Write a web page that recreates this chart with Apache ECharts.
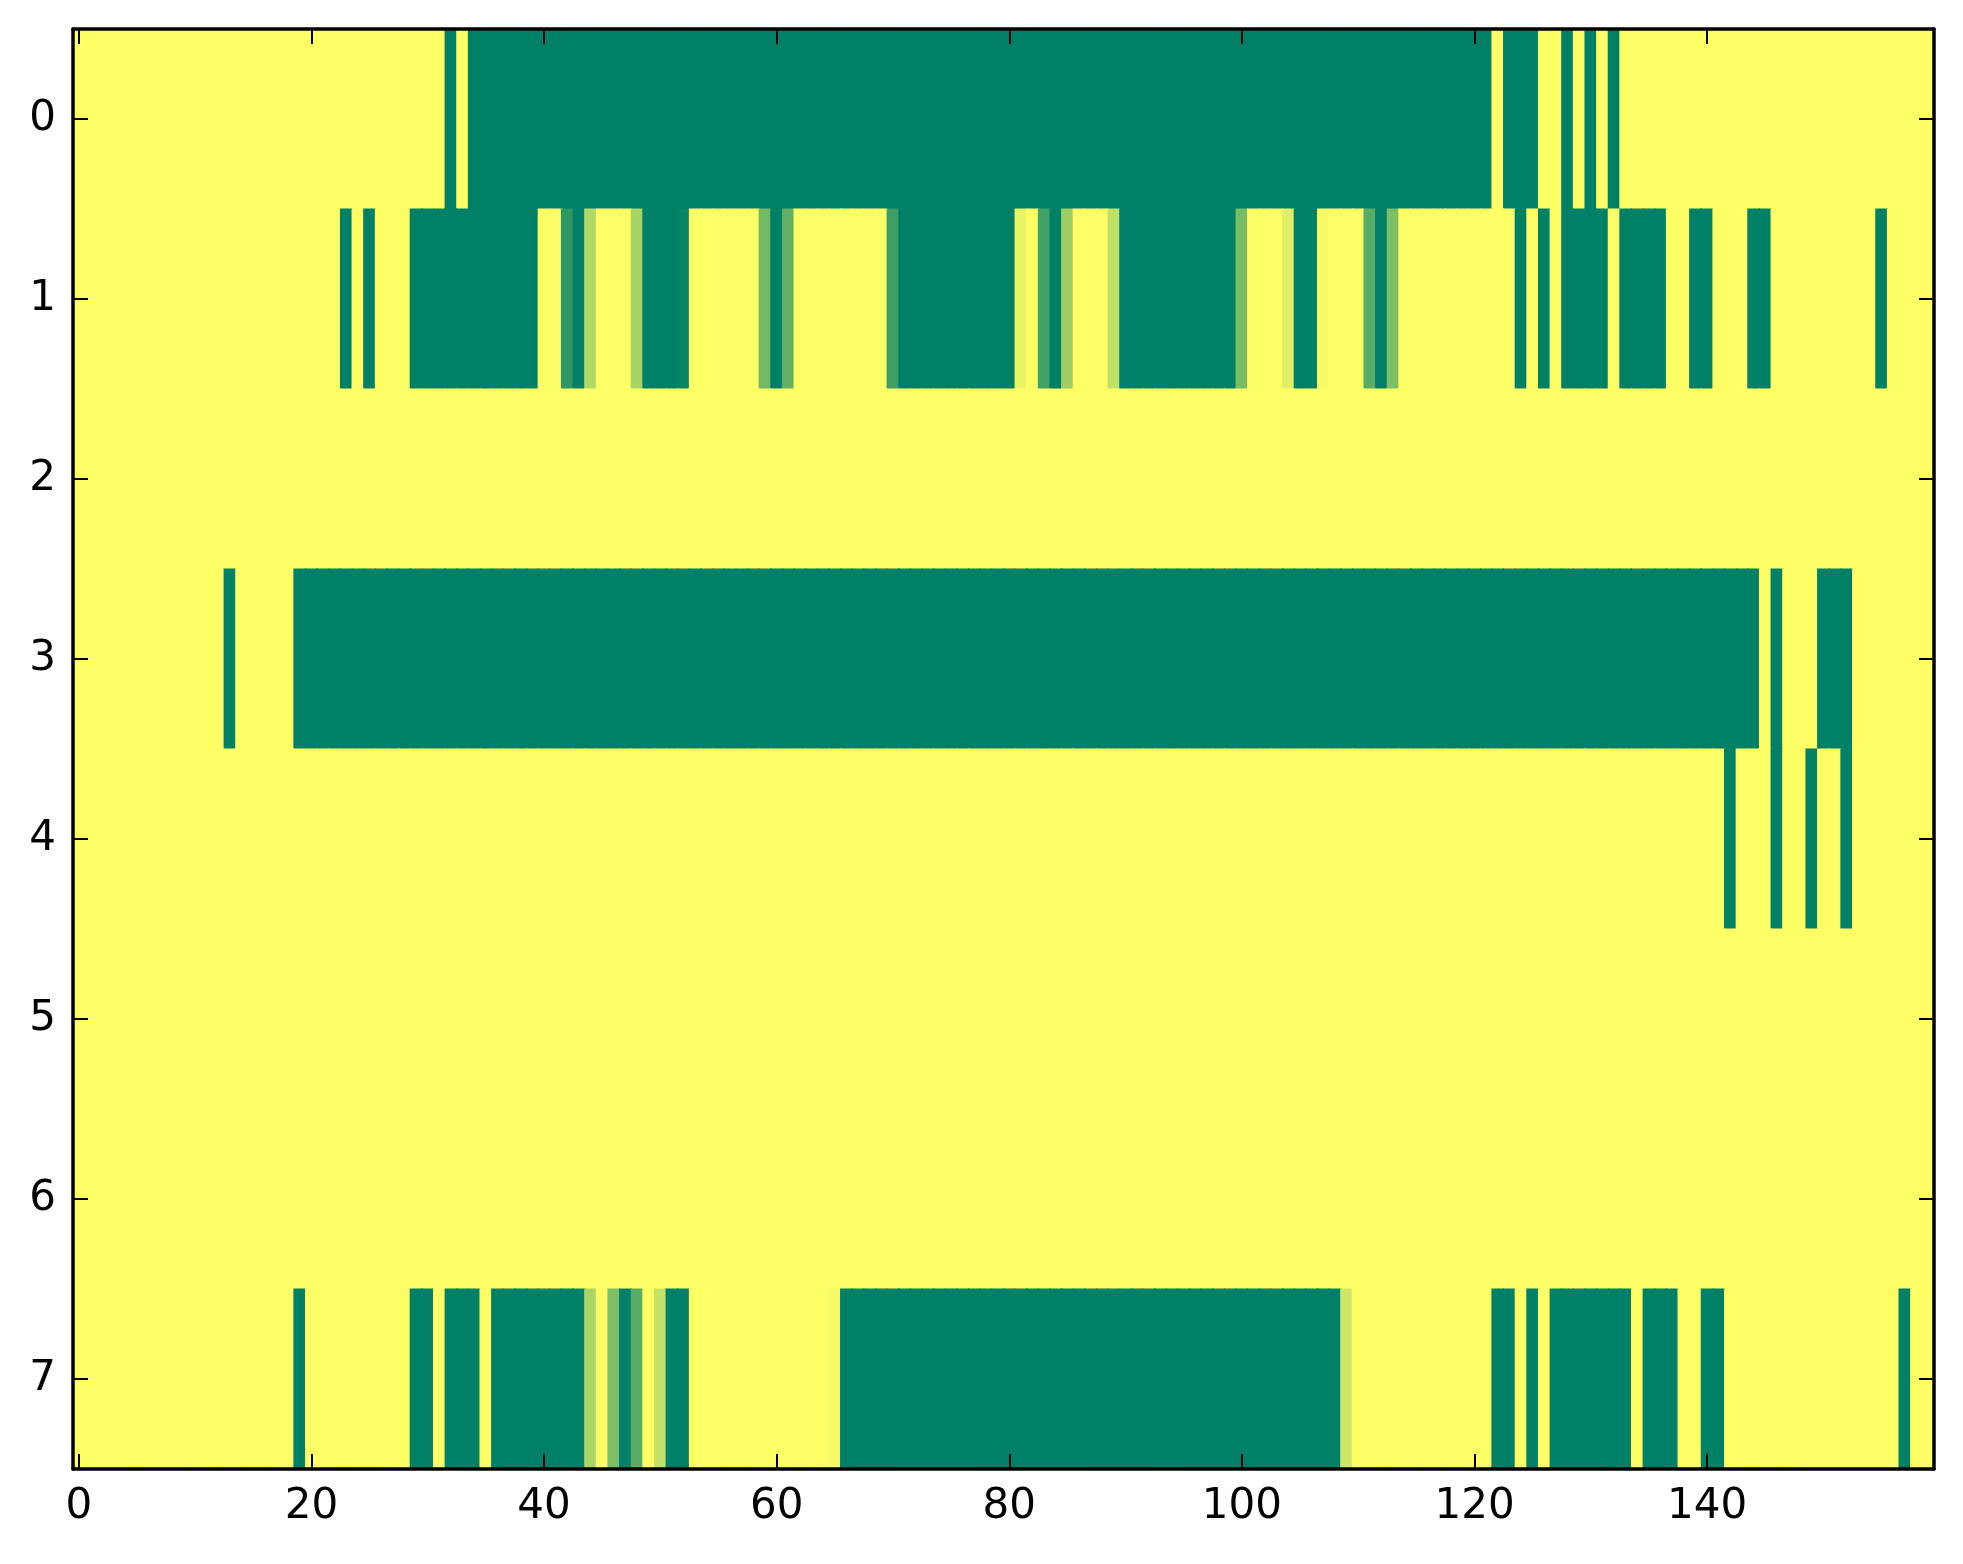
<!DOCTYPE html>
<html>
<head>
<meta charset="utf-8">
<script src="https://cdn.jsdelivr.net/npm/echarts@6/dist/echarts.min.js"></script>
<style>
html,body{margin:0;padding:0;background:#fff;}
#chart{width:1963px;height:1564px;}
</style>
</head>
<body>
<div id="chart"></div>
<script>
// Row labels (y categories) and column count
const rowLabels = ['0','1','2','3','4','5','6','7'];
const xTickStep = 20;

// Cell values per row (0 = yellow, 1 = green), 160 columns each
const row0 = [
0,0,0,0,0,0,0,0,0,0, 0,0,0,0,0,0,0,0,0,0, 0,0,0,0,0,0,0,0,0,0, 0,0,1,0,1,1,1,1,1,1,
1,1,1,1,1,1,1,1,1,1, 1,1,1,1,1,1,1,1,1,1, 1,1,1,1,1,1,1,1,1,1, 1,1,1,1,1,1,1,1,1,1,
1,1,1,1,1,1,1,1,1,1, 1,1,1,1,1,1,1,1,1,1, 1,1,1,1,1,1,1,1,1,1, 1,1,1,1,1,1,1,1,1,1,
1,1,0,1,1,1,0,0,1,0, 1,0,1,0,0,0,0,0,0,0, 0,0,0,0,0,0,0,0,0,0, 0,0,0,0,0,0,0,0,0,0];
const row1 = [
0,0,0,0,0,0,0,0,0,0, 0,0,0,0,0,0,0,0,0,0, 0,0,0,1,0,1,0,0,0,1, 1,1,1,1,1,1,1,1,1,1,
0,0,0.82,1,0.31,0,0,0,0.34,1, 1,1,0.97,0,0,0,0,0,0,0.55, 1,0.62,0,0,0,0,0,0,0,0, 0.76,1,1,1,1,1,1,1,1,1,
1,0.09,0,0.75,1,0.39,0,0,0,0.25, 1,1,1,1,1,1,1,1,1,1, 0.53,0,0,0,0.12,1,1,0.03,0,0, 0,0.65,1,0.51,0,0,0,0,0,0,
0,0,0,0,1,0,1,0,1,1, 1,1,0,1,1,1,1,0,0,1, 1,0,0,0,1,1,0,0,0,0, 0,0,0,0,0,1,0,0,0,0];
const row2 = [
0,0,0,0,0,0,0,0,0,0, 0,0,0,0,0,0,0,0,0,0, 0,0,0,0,0,0,0,0,0,0, 0,0,0,0,0,0,0,0,0,0,
0,0,0,0,0,0,0,0,0,0, 0,0,0,0,0,0,0,0,0,0, 0,0,0,0,0,0,0,0,0,0, 0,0,0,0,0,0,0,0,0,0,
0,0,0,0,0,0,0,0,0,0, 0,0,0,0,0,0,0,0,0,0, 0,0,0,0,0,0,0,0,0,0, 0,0,0,0,0,0,0,0,0,0,
0,0,0,0,0,0,0,0,0,0, 0,0,0,0,0,0,0,0,0,0, 0,0,0,0,0,0,0,0,0,0, 0,0,0,0,0,0,0,0,0,0];
const row3 = [
0,0,0,0,0,0,0,0,0,0, 0,0,0,1,0,0,0,0,0,1, 1,1,1,1,1,1,1,1,1,1, 1,1,1,1,1,1,1,1,1,1,
1,1,1,1,1,1,1,1,1,1, 1,1,1,1,1,1,1,1,1,1, 1,1,1,1,1,1,1,1,1,1, 1,1,1,1,1,1,1,1,1,1,
1,1,1,1,1,1,1,1,1,1, 1,1,1,1,1,1,1,1,1,1, 1,1,1,1,1,1,1,1,1,1, 1,1,1,1,1,1,1,1,1,1,
1,1,1,1,1,1,1,1,1,1, 1,1,1,1,1,1,1,1,1,1, 1,1,1,1,1,0,1,0,0,0, 1,1,1,0,0,0,0,0,0,0];
const row4 = [
0,0,0,0,0,0,0,0,0,0, 0,0,0,0,0,0,0,0,0,0, 0,0,0,0,0,0,0,0,0,0, 0,0,0,0,0,0,0,0,0,0,
0,0,0,0,0,0,0,0,0,0, 0,0,0,0,0,0,0,0,0,0, 0,0,0,0,0,0,0,0,0,0, 0,0,0,0,0,0,0,0,0,0,
0,0,0,0,0,0,0,0,0,0, 0,0,0,0,0,0,0,0,0,0, 0,0,0,0,0,0,0,0,0,0, 0,0,0,0,0,0,0,0,0,0,
0,0,0,0,0,0,0,0,0,0, 0,0,0,0,0,0,0,0,0,0, 0,0,1,0,0,0,1,0,0,1, 0,0,1,0,0,0,0,0,0,0];
const row5 = [
0,0,0,0,0,0,0,0,0,0, 0,0,0,0,0,0,0,0,0,0, 0,0,0,0,0,0,0,0,0,0, 0,0,0,0,0,0,0,0,0,0,
0,0,0,0,0,0,0,0,0,0, 0,0,0,0,0,0,0,0,0,0, 0,0,0,0,0,0,0,0,0,0, 0,0,0,0,0,0,0,0,0,0,
0,0,0,0,0,0,0,0,0,0, 0,0,0,0,0,0,0,0,0,0, 0,0,0,0,0,0,0,0,0,0, 0,0,0,0,0,0,0,0,0,0,
0,0,0,0,0,0,0,0,0,0, 0,0,0,0,0,0,0,0,0,0, 0,0,0,0,0,0,0,0,0,0, 0,0,0,0,0,0,0,0,0,0];
const row6 = [
0,0,0,0,0,0,0,0,0,0, 0,0,0,0,0,0,0,0,0,0, 0,0,0,0,0,0,0,0,0,0, 0,0,0,0,0,0,0,0,0,0,
0,0,0,0,0,0,0,0,0,0, 0,0,0,0,0,0,0,0,0,0, 0,0,0,0,0,0,0,0,0,0, 0,0,0,0,0,0,0,0,0,0,
0,0,0,0,0,0,0,0,0,0, 0,0,0,0,0,0,0,0,0,0, 0,0,0,0,0,0,0,0,0,0, 0,0,0,0,0,0,0,0,0,0,
0,0,0,0,0,0,0,0,0,0, 0,0,0,0,0,0,0,0,0,0, 0,0,0,0,0,0,0,0,0,0, 0,0,0,0,0,0,0,0,0,0];
const row7 = [
0,0,0,0,0,0,0,0,0,0, 0,0,0,0,0,0,0,0,0,1, 0,0,0,0,0,0,0,0,0,1, 1,0,1,1,1,0,1,1,1,1,
1,1,1,1,0.33,0,0.51,1,0.65,0, 0.23,1,1,0,0,0,0,0,0,0, 0,0,0,0,0,0.04,1,1,1,1, 1,1,1,1,1,1,1,1,1,1,
1,1,1,1,1,1,1,1,1,1, 1,1,1,1,1,1,1,1,1,1, 1,1,1,1,1,1,1,1,1,0.19, 0,0,0,0,0,0,0,0,0,0,
0,0,1,1,0,1,0,1,1,1, 1,1,1,1,0,1,1,1,0,0, 1,1,0,0,0,0,0,0,0,0, 0,0,0,0,0,0,0,1,0,0];

const rows = [row0,row1,row2,row3,row4,row5,row6,row7];
const nCols = row0.length;
const colLabels = [];
for (let i = 0; i < nCols; i++) colLabels.push(String(i));

const cells = [];
rows.forEach(function (r, y) {
  r.forEach(function (v, x) { cells.push([x, y, v]); });
});

const font = 'DejaVu Sans';
const showTick = function (idx) { return idx % xTickStep === 0; };
const lineStyle = { color: '#000', width: 3.5 };
const tickStyle = { color: '#000', width: 2 };

const chart = echarts.init(document.getElementById('chart'), null, { renderer: 'canvas' });
chart.setOption({
  animation: false,
  backgroundColor: '#fff',
  grid: { left: 73, right: 29, top: 29, bottom: 95, containLabel: false },
  visualMap: {
    show: false, type: 'continuous', min: 0, max: 1, dimension: 2,
    inRange: { color: ['#ffff66', '#008066'] }
  },
  xAxis: [
    {
      type: 'category', data: colLabels, position: 'bottom', z: 10,
      axisLine: { show: true, lineStyle: lineStyle },
      axisTick: { show: true, inside: true, length: 15, alignWithLabel: true, interval: showTick, lineStyle: tickStyle },
      axisLabel: { interval: showTick, fontSize: 42, fontFamily: font, color: '#000', margin: 17 },
      splitLine: { show: false }
    },
    {
      type: 'category', data: colLabels, position: 'top', z: 10,
      axisLine: { show: true, lineStyle: lineStyle },
      axisTick: { show: true, inside: true, length: 15, alignWithLabel: true, interval: showTick, lineStyle: tickStyle },
      axisLabel: { show: false },
      splitLine: { show: false }
    }
  ],
  yAxis: [
    {
      type: 'category', data: rowLabels, inverse: true, position: 'left', z: 10,
      axisLine: { show: true, lineStyle: lineStyle },
      axisTick: { show: true, inside: true, length: 15, alignWithLabel: true, lineStyle: tickStyle },
      axisLabel: { fontSize: 42, fontFamily: font, color: '#000', margin: 17 },
      splitLine: { show: false }
    },
    {
      type: 'category', data: rowLabels, inverse: true, position: 'right', z: 10,
      axisLine: { show: true, lineStyle: lineStyle },
      axisTick: { show: true, inside: true, length: 15, alignWithLabel: true, lineStyle: tickStyle },
      axisLabel: { show: false },
      splitLine: { show: false }
    }
  ],
  series: [{
    type: 'custom',
    xAxisIndex: 0, yAxisIndex: 0,
    data: cells,
    encode: { x: 0, y: 1 },
    silent: true,
    renderItem: function (params, api) {
      const c = api.coord([api.value(0), api.value(1)]);
      const s = api.size([1, 1]);
      const pad = 0.6;
      return {
        type: 'rect',
        shape: { x: c[0] - s[0] / 2 - pad, y: c[1] - s[1] / 2 - pad, width: s[0] + 2 * pad, height: s[1] + 2 * pad },
        style: { fill: api.visual('color') }
      };
    },
    clip: true
  }]
});
</script>
</body>
</html>
